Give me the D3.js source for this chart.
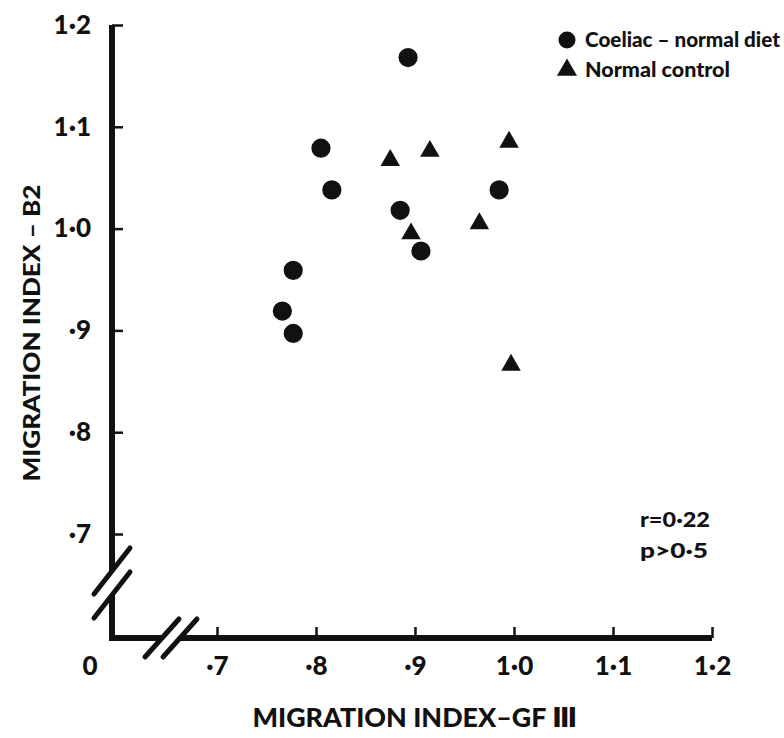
<!DOCTYPE html>
<html>
<head>
<meta charset="utf-8">
<script src="https://cdn.jsdelivr.net/npm/d3@7"></script>
<style>
  body { margin: 0; background: #fff; }
  text { font-family: Lato, "DejaVu Sans", sans-serif; font-weight: 900; fill: #111; }
</style>
</head>
<body>
<div id="chart"></div>
<script>
// values
const coeliacX = [0.893, 0.805, 0.816, 0.885, 0.906, 0.985, 0.777, 0.766, 0.777]
const coeliacY = [1.168, 1.079, 1.038, 1.018, 0.978, 1.038, 0.959, 0.919, 0.897]
const controlX = [0.875, 0.915, 0.995, 0.965, 0.896, 0.997]
const controlY = [1.067, 1.076, 1.085, 1.005, 0.995, 0.866]
const tickValues = [0.7, 0.8, 0.9, 1.0, 1.1, 1.2]
const tickLabels = ['·7', '·8', '·9', '1·0', '1·1', '1·2']
const legendLabels = ['Coeliac – normal diet', 'Normal control']
const statsLines = ['r=0·22', 'p>0·5']

;(function () {

  const margin = { top: 25, right: 72, bottom: 100, left: 112 }

  const width = 784 - margin.left - margin.right
  const height = 738 - margin.top - margin.bottom

  const svg = d3.select('#chart').append('svg')
      .attr('width', width + margin.left + margin.right)
      .attr('height', height + margin.top + margin.bottom)
      .append('g')
      .attr('transform', 'translate(' + margin.left + ',' + margin.top + ')')

  // axes are broken between 0 and .7
  const xPositionScale = d3.scaleLinear()
    .domain([0.7, 1.2])
    .range([105, width])

  const yPositionScale = d3.scaleLinear()
    .domain([0.7, 1.2])
    .range([509, 0])

  const labelOf = d => tickLabels[tickValues.indexOf(d)]

  const coeliac = coeliacX.map((x, i) => ({ x: x, y: coeliacY[i] }))
  const control = controlX.map((x, i) => ({ x: x, y: controlY[i] }))

  // ticks + labels
  const yAxis = d3.axisLeft(yPositionScale)
    .tickValues(tickValues)
    .tickFormat(labelOf)
    .tickSize(-11)
    .tickPadding(21)
  svg.append('g')
    .attr('class', 'axis y-axis')
    .call(yAxis)

  const xAxis = d3.axisBottom(xPositionScale)
    .tickValues(tickValues)
    .tickFormat(labelOf)
    .tickSize(-11)
    .tickPadding(19)
  svg.append('g')
    .attr('class', 'axis x-axis')
    .attr('transform', 'translate(0,' + height + ')')
    .call(xAxis)

  svg.selectAll('.axis .domain').remove()
  svg.selectAll('.axis line').attr('stroke', '#111').attr('stroke-width', 2.5)
  svg.selectAll('.axis text')
    .attr('font-size', 26)
    .attr('font-family', 'Lato, "DejaVu Sans", sans-serif')
    .attr('font-weight', 900)
    .attr('fill', '#111')

  // "0" at the corner
  svg.append('text')
    .attr('x', -22)
    .attr('y', height + 37)
    .attr('text-anchor', 'middle')
    .attr('font-size', 26)
    .text('0')

  // axis lines with the break marks
  const yBreak = [546, 570]
  const xBreak = [50, 68]
  const axisLines = [
    [[0, 0], [0, yBreak[0]]],
    [[0, yBreak[1]], [0, height], [xBreak[0], height]],
    [[xBreak[1], height], [width, height]]
  ]
  svg.selectAll('.axis-line')
    .data(axisLines)
    .join('path')
    .attr('class', 'axis-line')
    .attr('d', d3.line())
    .attr('fill', 'none')
    .attr('stroke', '#111')
    .attr('stroke-width', 6)

  const slashes = [
    [0, yBreak[0], 18, 23], [0, yBreak[1], 18, 23],
    [xBreak[0], height, 17, 19], [xBreak[1], height, 17, 19]
  ]
  svg.selectAll('.slash')
    .data(slashes)
    .join('line')
    .attr('class', 'slash')
    .attr('x1', d => d[0] - d[2])
    .attr('y1', d => d[1] + d[3])
    .attr('x2', d => d[0] + d[2])
    .attr('y2', d => d[1] - d[3])
    .attr('stroke', '#111')
    .attr('stroke-width', 5)
    .attr('stroke-linecap', 'round')

  // points
  svg.selectAll('.coeliac')
    .data(coeliac)
    .join('path')
    .attr('class', 'coeliac')
    .attr('d', d3.symbol(d3.symbolCircle, 290))
    .attr('transform', d => 'translate(' + xPositionScale(d.x) + ',' + yPositionScale(d.y) + ')')
    .attr('fill', '#111')

  svg.selectAll('.control')
    .data(control)
    .join('path')
    .attr('class', 'control')
    .attr('d', d3.symbol(d3.symbolTriangle, 165))
    .attr('transform', d => 'translate(' + xPositionScale(d.x) + ',' + yPositionScale(d.y) + ')')
    .attr('fill', '#111')

  // legend
  const legend = svg.append('g')
    .attr('transform', 'translate(' + (567 - margin.left) + ',' + (40 - margin.top) + ')')
  legend.selectAll('path')
    .data([d3.symbolCircle, d3.symbolTriangle])
    .join('path')
    .attr('d', (d, i) => d3.symbol(d, i === 0 ? 227 : 175)())
    .attr('transform', (d, i) => 'translate(0,' + (i * 30) + ')')
    .attr('fill', '#111')
  legend.selectAll('text')
    .data(legendLabels)
    .join('text')
    .attr('x', 18)
    .attr('y', (d, i) => 7 + i * 30)
    .attr('font-size', 21)
    .attr('textLength', (d, i) => i === 0 ? 195 : 145)
    .attr('lengthAdjust', 'spacingAndGlyphs')
    .text(d => d)

  // r and p
  svg.selectAll('.stats')
    .data(statsLines)
    .join('text')
    .attr('class', 'stats')
    .attr('x', 640 - margin.left)
    .attr('y', (d, i) => 527 - margin.top + i * 31)
    .attr('font-size', 21)
    .attr('textLength', (d, i) => i === 0 ? 70 : 68)
    .attr('lengthAdjust', 'spacingAndGlyphs')
    .text(d => d)

  // axis titles
  svg.append('text')
    .attr('x', 415 - margin.left)
    .attr('y', 727 - margin.top)
    .attr('text-anchor', 'middle')
    .attr('font-size', 26)
    .attr('textLength', 325)
    .attr('lengthAdjust', 'spacingAndGlyphs')
    .text('MIGRATION INDEX–GF Ⅲ')

  svg.append('text')
    .attr('transform', 'translate(' + (40 - margin.left) + ',' + (333 - margin.top) + ') rotate(-90)')
    .attr('text-anchor', 'middle')
    .attr('font-size', 22)
    .attr('textLength', 297)
    .attr('lengthAdjust', 'spacingAndGlyphs')
    .text('MIGRATION INDEX – B2')

})();
</script>
</body>
</html>
